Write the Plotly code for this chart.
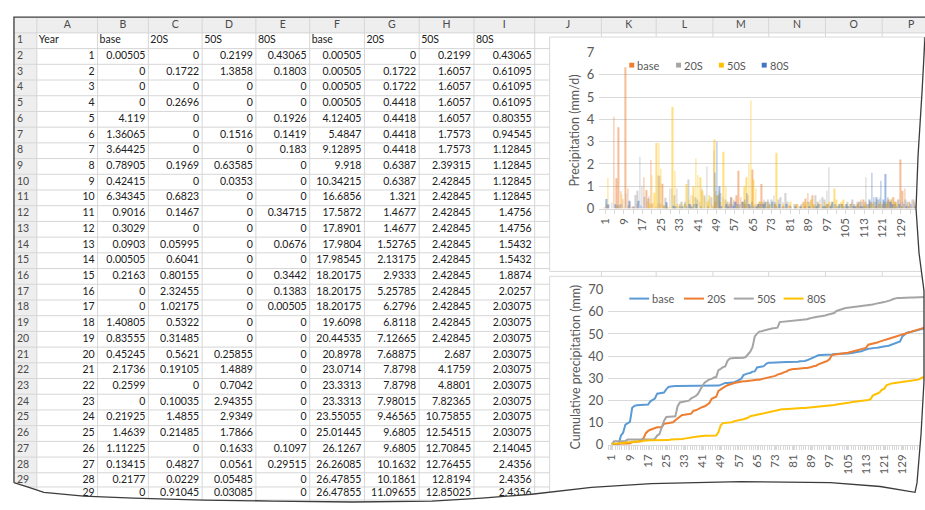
import numpy as np
import plotly.graph_objects as go

W, H = 925, 510

# ---- data (daily precipitation, mm/d) ----
days = list(range(1, 140))
series_names = ["base", "20S", "50S", "80S"]

base = [0.00505, 0, 0, 0, 4.119, 1.36065, 3.64425, 0.78905, 0.42415, 6.34345,
        0.9016, 0.3029, 0.0903, 0.00505, 0.2163, 0, 0, 1.40805, 0.83555, 0.45245,
        2.1736, 0.2599, 0, 0.21925, 1.4639, 1.11225, 0.13415, 0.2177, 0, 0,
        0.02, 0, 0, 0.05, 0, 0, 0, 0, 0.03, 0, 0, 0, 0, 0.04, 0, 0, 0, 0.1, 0.3,
        0.6, 0.3, 0, 0.1, 0, 0.2, 0.5, 0.4, 0.6, 1.7, 0.5, 0.3, 0.2, 0.6, 0.1, 1.75,
        0.2, 0.1, 0.3, 1.1, 0.4,
        0, 0.1, 0, 0, 0.2, 0, 0, 0.1, 0, 0, 0.15, 0, 0, 0.2, 0, 0.1, 0.3,
        0.45, 0.7, 0.3, 0.6, 0.2, 0.1,
        0, 0.1, 0, 0.2, 0, 0.15, 0, 0, 0.1, 0, 0.2, 0, 0.1, 0, 0.3, 0.2, 0.1,
        0.3, 0.4, 0.4, 0.3, 0.1, 0.3, 0, 0.1, 0.1, 0.2, 0.1, 0.3,
        0.2, 0.4, 0.3, 0.5, 0.3, 0.4,
        2.2, 0.8, 0.9, 0.2, 0.3, 0.1, 0.4, 0.2, 0.3, 0.2, 0.4]

s20 = [0, 0.1722, 0, 0.2696, 0, 0, 0, 0.1969, 0, 0.6823,
       0.1467, 0, 0.05995, 0.6041, 0.80155, 2.32455, 1.02175, 0.5322, 0.31485, 0.5621,
       0.19105, 0, 0.10035, 1.4855, 0.21485, 0, 0.4827, 0.0229, 0.91045, 0.87925,
       0.6, 0.9, 0.1, 0.3, 0, 0.2, 1.3, 0.2, 0.6, 0.5, 0.4,
       0.3, 0.9, 0.6, 1.9, 0.4, 0.5, 2.6,
       0.8, 0.6, 0.7, 0.5, 0.4, 0.3, 0.3, 0.2, 0.3, 0.2,
       0.1, 0, 0.2, 0.1, 0.2, 0.1, 0.1, 0, 0.2,
       0.2, 0.3, 0.2, 0.1, 0.3, 0.4, 0.6, 0.2,
       0.4, 0.5, 0.3, 0.7, 0.3,
       0.1, 0, 0.2, 0, 0.1, 0.2, 0, 0.1,
       0.3, 0.4, 0.2, 0.6, 0.3, 0.4,
       0.5, 0.4, 0.8, 1.85,
       0.2, 0.1, 0.2, 0.1, 0.2, 0.1, 0.1,
       0.3, 0.2, 0.4, 0.2, 0.3, 0.3,
       0.3, 0.2, 1.4, 0.2, 0.3, 0.2,
       0.3, 0.4, 0.5, 0.2, 0.3, 0.3,
       0.3, 0.4, 0.2, 0.3, 0.4, 0.3, 0.3,
       0.4, 0.3, 0.2, 0.4, 0.3, 0.3, 0.4, 0.3, 0.4]

s50 = [0.2199, 1.3858, 0, 0, 0, 0.1516, 0, 0.63585, 0.0353, 0,
       0, 0, 0, 0, 0, 0, 0, 0, 0, 0.25855,
       1.4889, 0.7042, 2.94355, 2.9349, 1.7866, 0.1633, 0.0561, 0.05485, 0.03085, 4.55585,
       1.7, 0.2, 0.1, 0.3, 0.2, 1.1, 0.4, 0.6, 1.0, 2.25, 1.5, 1.4,
       0.8, 0.5, 0.3, 0.6, 0.2, 3.1, 0.6, 0.8, 0.3, 2.55, 1.0, 0.3,
       0, 0, 0, 0.1, 0, 0.3, 1.0, 1.4, 2.0, 4.85, 1.3, 0.9,
       0.2, 0.3, 0.2, 0.3, 0.3, 0.2, 0.1, 0.2, 2.5,
       0.1, 0, 0.2, 0, 0.1, 0.3, 0, 0.1, 0.2, 0, 0.1,
       0.2, 0.3, 0.1, 0.4, 0.2, 0.1, 0.3, 0.2, 0.1, 0.3,
       0.2, 0.3, 0.3, 0.9, 0.4, 0.2, 0.3, 0.4, 0.2,
       0.1, 0.2, 0, 0.1, 0.2, 0.1, 0, 0.2, 0.1, 0.2,
       0.2, 0.3, 0.1, 0.2, 0.3, 0.2, 0.2,
       0.3, 0.4, 0.5, 0.3, 0.2,
       0, 0.1, 0, 0, 0.1, 0, 0, 0.1, 0, 0, 0.1, 0]

s80 = [0.43065, 0.1803, 0, 0, 0.1926, 0.1419, 0.183, 0, 0, 0,
       0.34715, 0, 0.0676, 0, 0.3442, 0.1383, 0.00505, 0, 0, 0,
       0, 0, 0, 0, 0, 0.1097, 0.29515, 0, 0, 0.12275,
       0.05, 0, 0.2, 0.1, 0.3, 0.1, 0.2, 0.1, 0.2, 0.2,
       0, 0.1, 0, 0, 0.1, 0, 0, 1.6, 3.0, 1.0,
       0.1, 0, 0.2, 0.1, 0.5, 0.1, 0.3, 0.2, 0.2,
       0.3, 0.4, 0.7, 0.2, 0.3, 0.1, 0.1, 0.2, 0.2, 0.2,
       0.3, 0.4, 0.2, 0.3, 0.3, 0.1, 0.2, 0, 0.1, 0.2, 0, 0.1,
       0, 0.1, 0, 0.1, 0, 0.1, 0, 0.1, 0,
       0.1, 0.1, 0.2, 0, 0.1, 0.1,
       0.2, 0.1, 0.3, 0.2, 0.1, 0.2, 0.2, 0.1, 0.2,
       0.1, 0.2, 0.1, 0.1, 0.2, 0.1, 0.1, 0.1,
       0.2, 0.4, 1.6, 0.5, 0.5, 0.4, 1.25, 0.4, 1.55, 0.5,
       0.3, 0.2, 0.2, 0.1, 0.2,
       0.1, 0.2, 0.1, 0.1, 0.2, 0, 0.1,
       0.3, 0.5, 0.4, 0.6]

daily = [base, s20, s50, s80]
cumul = [np.cumsum(s) for s in daily]

xtick_days = list(range(1, 140, 8))
col_letters = list("ABCDEFGHIJKLMNOP")
sheet_days = 29  # sheet rows 2..30

bar_colors = ["#ED7D31", "#A5A5A5", "#FFC000", "#4472C4"]
line_colors = ["#5B9BD5", "#ED7D31", "#A5A5A5", "#FFC000"]
grid_c = "#d9d9d9"
axis_txt = "#595959"
sheet_line = "#d6d6d6"
head_fill = "#eeeeee"
clear = "rgba(0,0,0,0)"


def px_x(x):
    return x / W


def px_y(y):
    return 1 - y / H


def fmt(v):
    return f"{round(float(v), 5):.10g}"


# ---- spreadsheet geometry (pixels from top-left) ----
col_edges = [10, 33, 94, 145, 199, 253, 307, 362, 417, 472, 533,
             600, 655, 712, 768, 825, 882, 940]
col_mid = [(a + b) / 2 for a, b in zip(col_edges[1:-1], col_edges[2:])]
head_top, head_bot = 10, 25.7
row_c = [33.8 + 16.22 * k for k in range(29)] + [501, 515]
row_b = [head_bot] + [(a + b) / 2 for a, b in zip(row_c[:-1], row_c[1:])]

fig = go.Figure()

# ---- spreadsheet text, placed on a hidden pixel-scaled axis pair ----
sheet_font = dict(family="Lato", size=10.5, color="#202020")
label_font = dict(family="Lato", size=10.5, color="#4a4a4a")


def sheet_text(x, y, text, pos, font):
    fig.add_trace(go.Scatter(x=x, y=y, text=text, mode="text", textposition=pos,
                             textfont=font, xaxis="x3", yaxis="y3",
                             showlegend=False, hoverinfo="skip", cliponaxis=False))


# column letters
sheet_text(col_mid[:-1] + [col_edges[-2] + 29], [17.9] * 16, col_letters, "middle center", label_font)
# row numbers
sheet_text([13] * 30, row_c[:30], [str(i + 1) for i in range(30)], "middle right", label_font)
# row 1 titles (left aligned)
titles = ["Year"] + series_names * 2
sheet_text([e + 2 for e in col_edges[1:10]], [row_c[0]] * 9, titles, "middle right", sheet_font)
# numbers (right aligned)
columns = [[str(d) for d in days[:sheet_days]]]
columns += [[fmt(v) for v in s[:sheet_days]] for s in daily]
columns += [[fmt(v) for v in c[:sheet_days]] for c in cumul]
vx, vy, vt = [], [], []
for j, col in enumerate(columns):
    vx += [col_edges[j + 2] - 3] * len(col)
    vy += row_c[1:1 + len(col)]
    vt += col
sheet_text(vx, vy, vt, "middle left", sheet_font)

# ---- top chart: daily bars ----
for name, vals, c in zip(series_names, daily, bar_colors):
    fig.add_trace(go.Bar(x=days, y=vals, name=name, xaxis="x", yaxis="y",
                         marker=dict(color=c, opacity=0.5, line_width=0), showlegend=False))

# ---- bottom chart: cumulative lines ----
for name, vals, c in zip(series_names, cumul, line_colors):
    fig.add_trace(go.Scatter(x=days, y=vals, name=name, mode="lines",
                             xaxis="x2", yaxis="y2", showlegend=False,
                             line=dict(color=c, width=2)))

# ---- shapes: sheet fills and grid, chart boxes ----
shapes = []


def rect(x0, y0, x1, y1, fill, line=None, layer="below"):
    return dict(type="rect", xref="paper", yref="paper", layer=layer,
                x0=px_x(x0), x1=px_x(x1), y0=px_y(y1), y1=px_y(y0), fillcolor=fill,
                line=dict(color=line or fill, width=1 if line else 0))


def seg(x0, y0, x1, y1, color, width=1, layer="below"):
    return dict(type="line", xref="paper", yref="paper", layer=layer,
                x0=px_x(x0), x1=px_x(x1), y0=px_y(y0), y1=px_y(y1),
                line=dict(color=color, width=width))


shapes.append(rect(10, head_top, W, head_bot, head_fill))
shapes.append(rect(10, head_bot, 33, H, head_fill))
for y in row_b:
    shapes.append(seg(10, y, W, y, sheet_line))
for x in col_edges[1:-1]:
    shapes.append(seg(x, head_top, x, H, sheet_line))
shapes.append(rect(548, 30, 924, 272, "white", grid_c))
shapes.append(rect(548, 277, 924, 509, "white", grid_c))

# ---- legends (Excel style, small keys next to the labels) ----
annotations = []
bar_keys = [628, 675, 718, 761]
for x, name, c in zip(bar_keys, series_names, bar_colors):
    shapes.append(rect(x, 56.5, x + 5, 61.5, c, layer="above"))
    annotations.append(dict(x=px_x(x + 6), y=px_y(59), xref="paper", yref="paper", text=name,
                            showarrow=False, xanchor="left", yanchor="middle",
                            font=dict(family="Lato", size=11, color=axis_txt)))
line_keys = [628, 683, 733, 783]
for x, name, c in zip(line_keys, series_names, line_colors):
    shapes.append(seg(x, 300, x + 20, 300, c, 2, layer="above"))
    annotations.append(dict(x=px_x(x + 21), y=px_y(300), xref="paper", yref="paper", text=name,
                            showarrow=False, xanchor="left", yanchor="middle",
                            font=dict(family="Lato", size=11, color=axis_txt)))

# ---- torn paper edges ----
right_edge = [(925, 30), (922, 87), (918, 153), (916, 207), (919, 253), (924, 292),
              (924, 385), (921, 440), (917, 490), (915, 500)]
bottom_edge = [(880, 494), (830, 490), (740, 489), (650, 491), (590, 495),
               (530, 502), (480, 506), (430, 509), (350, 510), (270, 509),
               (200, 508), (130, 506), (80, 504), (40, 500), (25, 495), (10, 490)]
edge = right_edge + bottom_edge


def to_path(pts, close=False):
    s = "M " + " L ".join(f"{px_x(x):.5f},{px_y(y):.5f}" for x, y in pts)
    return s + (" Z" if close else "")


cut = [(W, 30)] + edge + [(0, 490), (0, H), (W, H)]
shapes.append(dict(type="path", xref="paper", yref="paper", layer="above",
                   path=to_path(cut, True), fillcolor="white", line=dict(width=0)))
shapes.append(dict(type="path", xref="paper", yref="paper", layer="above",
                   path=to_path(edge), line=dict(color="#3c3c3c", width=1.3)))
shapes.append(dict(type="path", xref="paper", yref="paper", layer="above",
                   path=to_path([(10, 490), (10, 9.5), (W, 9.5)]),
                   line=dict(color="#3c3c3c", width=1.3)))

xaxis_common = dict(tickmode="array", tickvals=xtick_days, ticktext=[str(d) for d in xtick_days],
                    tickangle=-90, tickfont=dict(family="Lato", size=11.5, color=axis_txt),
                    showline=True, linecolor=grid_c, showgrid=False, zeroline=False,
                    ticks="outside", ticklen=4, tickcolor=grid_c, fixedrange=True)
yaxis_common = dict(showgrid=True, gridcolor=grid_c, zeroline=False, showline=False,
                    tickfont=dict(family="Lato", size=13, color=axis_txt),
                    ticklabelstandoff=4, fixedrange=True)

fig.update_layout(
    width=W, height=H,
    margin=dict(l=0, r=0, t=0, b=0),
    paper_bgcolor="white", plot_bgcolor=clear,
    font=dict(family="Lato", color=axis_txt),
    showlegend=False,
    barmode="group", bargap=0.1, bargroupgap=0,
    shapes=shapes, annotations=annotations,
    xaxis=dict(domain=[px_x(598), 1], range=[-1.6, 139.4], anchor="y",
               minor=dict(ticks="outside", ticklen=4, tickcolor=grid_c, dtick=4, tick0=1),
               **xaxis_common),
    yaxis=dict(domain=[px_y(207), px_y(46)], range=[0, 7], dtick=1, anchor="x",
               title=dict(text="Precipitation (mm/d)", standoff=4,
                          font=dict(family="Lato", size=12.5, color=axis_txt)),
               **yaxis_common),
    xaxis2=dict(domain=[px_x(607), 1], range=[-0.5, 139.0], anchor="y2",
                minor=dict(ticks="outside", ticklen=4, tickcolor=grid_c, dtick=1, tick0=0.5),
                **xaxis_common),
    yaxis2=dict(domain=[px_y(451), px_y(290.7)], range=[0, 70], dtick=10, anchor="x2",
                title=dict(text="Cumulative precipitation (mm)", standoff=4,
                           font=dict(family="Lato", size=12.5, color=axis_txt)),
                **yaxis_common),
    xaxis3=dict(domain=[0, 1], range=[0, W], visible=False, fixedrange=True, anchor="y3"),
    yaxis3=dict(domain=[0, 1], range=[H, 0], visible=False, fixedrange=True, anchor="x3"),
)

# pin the 925x510 figure to the window's top-left corner (no page margin or scroll)
pin = ("document.documentElement.style.overflow='hidden';"
       "document.body.style.margin='0';document.body.style.overflow='hidden';"
       "var g=document.getElementById('{plot_id}');"
       "g.style.position='fixed';g.style.left='0';g.style.top='0';")
fig.write_html("out.html", config={"displayModeBar": False}, post_script=pin)
